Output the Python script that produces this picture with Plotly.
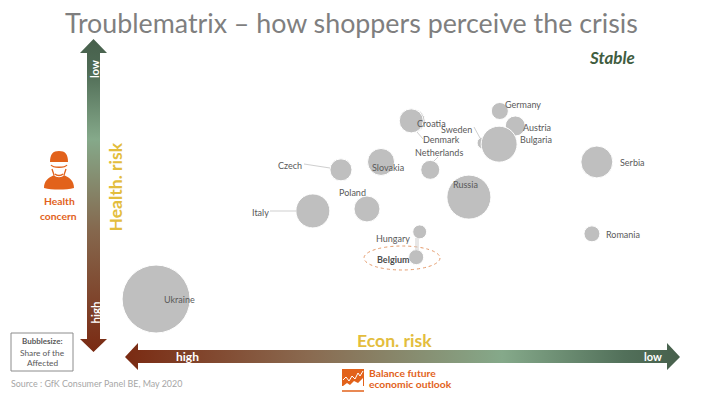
import plotly.graph_objects as go

# ---- data (axes: 0-100 scale, economic outlook / health outlook) ----
countries = ["Denmark", "Sweden", "Ukraine", "Italy", "Poland", "Czech", "Slovakia", "Croatia",
             "Netherlands", "Russia", "Hungary", "Belgium", "Austria", "Germany", "Bulgaria",
             "Serbia", "Romania"]
econ = [58.9, 68.7, 22.2, 44.5, 52.2, 48.5, 54.2, 58.5, 61.2, 66.7, 59.7, 59.2, 73.3, 71.1, 71.0, 84.9, 84.2]
health = [69.4, 63.8, 24.3, 46.6, 47.1, 57.0, 59.0, 69.4, 57.0, 50.1, 41.3, 34.9, 68.1, 71.9, 63.5, 59.0, 40.8]
share = [10.5, 3.0, 100, 25, 14.6, 10.5, 15.8, 12.5, 7.8, 41.9, 4.2, 4.9, 8.7, 6.3, 28, 22.1, 5.5]
label_x = [441, 456, 179, 260, 352, 290, 388, 431, 439, 465, 393, 393, 537, 523, 536, 632, 623]
label_y = [139, 129, 299, 212, 192, 165, 167, 123, 152, 184, 238, 259, 127, 104, 139, 162, 234]

title = "Troublematrix – how shoppers perceive the crisis"
source = "Source : GfK Consumer Panel BE, May 2020"

GREY = "#bfbfbf"
LABEL = "#595959"
ORANGE = "#e2621b"
YELLOW = "#e3bd3d"
FONT = "Lato, 'Open Sans', sans-serif"

fig = go.Figure()

V_SCALE = [[0, "#7a2a12"], [0.38, "#85664c"], [0.68, "#85a98a"], [0.90, "#4f6b55"], [1, "#47604c"]]
H_SCALE = [[0, "#7a2a12"], [0.33, "#8a6a50"], [0.68, "#85a98a"], [0.9, "#52705a"], [1, "#47604c"]]

# gradient arrows (decoration, drawn on a pixel overlay axis)
fig.add_trace(go.Scatter(
    x=[93.5, 107, 100, 100, 107, 93.5, 80, 87, 87, 80, 93.5],
    y=[39, 53, 53, 339, 339, 352, 339, 339, 53, 53, 39],
    mode="none", fill="toself", xaxis="x2", yaxis="y2", hoverinfo="skip", showlegend=False,
    fillgradient=dict(type="vertical", colorscale=V_SCALE)))
fig.add_trace(go.Scatter(
    x=[125, 138, 138, 667, 667, 680, 667, 667, 138, 138, 125],
    y=[357, 343, 350, 350, 343, 357, 370, 363, 363, 370, 357],
    mode="none", fill="toself", xaxis="x2", yaxis="y2", hoverinfo="skip", showlegend=False,
    fillgradient=dict(type="horizontal", colorscale=H_SCALE)))

# bubbles
fig.add_trace(go.Scatter(
    x=econ, y=health, text=countries, mode="markers", showlegend=False, hoverinfo="text",
    marker=dict(size=share, sizemode="area", sizeref=2 * 100 / 68 ** 2, color=GREY,
                opacity=1, line=dict(color="#ffffff", width=1))))

anns = []


def txt(x, y, s, size=9, color=LABEL, **kw):
    anns.append(dict(x=x, y=y, xref="x2", yref="y2", text=s, showarrow=False,
                     font=dict(family=FONT, size=size, color=color),
                     xanchor=kw.pop("xanchor", "center"), yanchor="middle", **kw))


for name, lx, ly in zip(countries, label_x, label_y):
    if name == "Belgium":
        txt(lx, ly, "<b>Belgium</b>", color="#4d4d4d")
    else:
        txt(lx, ly, name)

txt(351, 22.5, title, size=26.8, color="#7f7f7f")
txt(612, 57, "<b><i>Stable</i></b>", size=17, color="#3f5d3f")
txt(59, 201, "<b>Health</b>", size=10.3, color=ORANGE)
txt(58.5, 216, "<b>concern</b>", size=10.3, color=ORANGE)
txt(115, 187.5, "<b>Health. risk</b>", size=17.5, color=YELLOW, textangle=-90)
txt(394, 340, "<b>Econ. risk</b>", size=17.6, color=YELLOW)
txt(94, 69, "<b>low</b>", size=11, color="#ffffff", textangle=-90)
txt(95, 312.5, "<b>high</b>", size=11.5, color="#ffffff", textangle=-90)
txt(187, 356, "<b>high</b>", size=12, color="#ffffff")
txt(653, 356, "<b>low</b>", size=11, color="#ffffff")
txt(42, 341, "<b>Bubblesize:</b>", size=8, color="#595959")
txt(42, 353, "Share of the", size=8.3, color="#595959")
txt(42, 363, "Affected", size=8.3, color="#595959")
txt(9, 383, source, size=8.9, color="#a6a6a6", xanchor="left")
txt(367, 373, "<b>Balance future</b>", size=10.3, color=ORANGE, xanchor="left")
txt(367, 384, "<b>economic outlook</b>", size=10.3, color=ORANGE, xanchor="left")

shapes = []


def shp(**kw):
    kw.setdefault("xref", "x2")
    kw.setdefault("yref", "y2")
    shapes.append(kw)


# legend box, focus ellipse
shp(type="rect", x0=11, x1=73, y0=333, y1=371, line=dict(color="#8c8c8c", width=1), fillcolor="white")
shp(type="circle", x0=364, x1=440, y0=246, y1=270, line=dict(color="#e59a6a", width=1, dash="dot"))

# leader lines
for x0, y0, x1, y1 in [(270, 211, 296, 211), (304, 164, 330, 168), (474, 127, 480, 138),
                       (417, 132, 423, 139), (434, 161, 438, 157), (416, 238, 416, 250),
                       (418, 238, 418, 250)]:
    shp(type="line", x0=x0, y0=y0, x1=x1, y1=y1, line=dict(color="#cfcfcf", width=1))

# health icon
shp(type="path", fillcolor=ORANGE, line=dict(width=0),
    path="M50 162 C50 154 53 151 59 151 C65 151 68 154 68 162 L50 162 Z")
shp(type="path", fillcolor=ORANGE, line=dict(width=0),
    path="M44 188 C44 181 48 178 54 175 C56 178 62 178 64 175 C70 178 74 181 74 188 C66 190 52 190 44 188 Z")
shp(type="path", fillcolor="rgba(0,0,0,0)", line=dict(color=ORANGE, width=1.3),
    path="M51 165 C53 168 65 168 67 165 M52 169 L54 175 M66 169 L64 175 M55 174 C57 176 61 176 63 174")

# logo
shp(type="rect", x0=342, x1=364, y0=369, y1=386, fillcolor=ORANGE, line=dict(width=0))
shp(type="line", x0=342, x1=364, y0=391, y1=391, line=dict(color=ORANGE, width=1.5))
shp(type="path", fillcolor="rgba(0,0,0,0)", line=dict(color="#ffffff", width=1),
    path="M343 380 L346 377 L349 381 L352 376 L355 379 L358 373 L360 376 L363 371")
shp(type="path", fillcolor="#ffffff", line=dict(width=0),
    path="M343 386 L347 383 L350 385 L354 381 L358 383 L363 378 L363 386 Z")

fig.update_layout(
    width=703, height=395, margin=dict(l=0, r=0, t=0, b=0), autosize=False,
    plot_bgcolor="white", paper_bgcolor="white", showlegend=False, font=dict(family=FONT),
    xaxis=dict(domain=[0, 1], range=[0, 100], visible=False, fixedrange=True),
    yaxis=dict(domain=[0, 1], range=[0, 100], visible=False, fixedrange=True),
    xaxis2=dict(domain=[0, 1], range=[0, 703], visible=False, overlaying="x", fixedrange=True),
    yaxis2=dict(domain=[0, 1], range=[395, 0], visible=False, overlaying="y", fixedrange=True),
    annotations=anns, shapes=shapes)
fig.write_html("out.html", config=dict(displayModeBar=False),
               post_script="document.body.style.margin='0';document.documentElement.style.overflow='hidden';")
